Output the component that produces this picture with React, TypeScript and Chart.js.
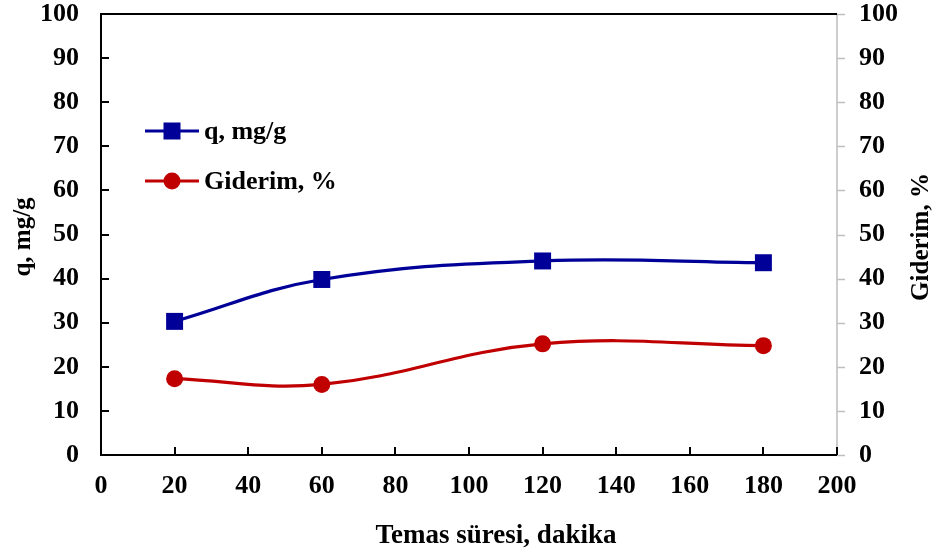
import React, { useEffect, useRef } from "react";
import { Chart, registerables } from "chart.js";

Chart.register(...registerables);

const timeMin = [20, 60, 120, 180];
const qValues = [30.3, 39.8, 44.0, 43.6];
const removalValues = [17.3, 16.0, 25.2, 24.8];
const xTitle = "Temas süresi, dakika";
const yLeftTitle = "q, mg/g";
const yRightTitle = "Giderim, %";
const seriesNames = ["q, mg/g", "Giderim, %"];

const BLUE = "#000099";
const RED = "#C00000";
const FONT = "'Liberation Serif', 'Times New Roman', serif";

const framePlugin = {
  id: "frame",
  afterDraw(chart: any) {
    const { ctx, chartArea: a, scales } = chart;
    const x = scales.x;
    const y = scales.y;
    const y2 = scales.y2;
    ctx.save();
    // right axis gray
    ctx.strokeStyle = "#BFBFBF";
    ctx.lineWidth = 1.5;
    ctx.beginPath();
    ctx.moveTo(a.right, a.top);
    ctx.lineTo(a.right, a.bottom);
    y2.ticks.forEach((t: any) => {
      const py = Math.round(y2.getPixelForValue(t.value)) + 0.5;
      ctx.moveTo(a.right, py);
      ctx.lineTo(a.right + 8, py);
    });
    ctx.stroke();
    // black axes
    ctx.strokeStyle = "#000";
    ctx.lineWidth = 2;
    ctx.beginPath();
    ctx.moveTo(a.right, a.top);
    ctx.lineTo(a.left, a.top);
    ctx.lineTo(a.left, a.bottom);
    ctx.lineTo(a.right, a.bottom);
    y.ticks.forEach((t: any) => {
      const py = Math.round(y.getPixelForValue(t.value));
      ctx.moveTo(a.left, py);
      ctx.lineTo(a.left + 8, py);
    });
    x.ticks.forEach((t: any) => {
      const px = Math.round(x.getPixelForValue(t.value));
      ctx.moveTo(px, a.bottom);
      ctx.lineTo(px, a.bottom - 8);
    });
    ctx.stroke();

    // titles
    ctx.fillStyle = "#000";
    ctx.font = `bold 27px ${FONT}`;
    ctx.textAlign = "center";
    ctx.textBaseline = "middle";
    ctx.fillText(xTitle, 496, 536);
    ctx.font = `bold 25px ${FONT}`;
    ctx.save();
    ctx.translate(24, 237);
    ctx.rotate(-Math.PI / 2);
    ctx.fillText(yLeftTitle, 0, 0);
    ctx.restore();
    ctx.save();
    ctx.translate(922, 237);
    ctx.rotate(-Math.PI / 2);
    ctx.fillText(yRightTitle, 0, 0);
    ctx.restore();

    // legend
    const items = [
      { label: seriesNames[0], color: BLUE, shape: "rect", y: 131 },
      { label: seriesNames[1], color: RED, shape: "circle", y: 181 },
    ];
    items.forEach((it) => {
      ctx.strokeStyle = it.color;
      ctx.fillStyle = it.color;
      ctx.lineWidth = 3;
      ctx.beginPath();
      ctx.moveTo(145, it.y);
      ctx.lineTo(199, it.y);
      ctx.stroke();
      if (it.shape === "rect") {
        ctx.fillRect(172 - 8.5, it.y - 8.5, 17, 17);
      } else {
        ctx.beginPath();
        ctx.arc(172, it.y, 8.5, 0, Math.PI * 2);
        ctx.fill();
      }
      ctx.fillStyle = "#000";
      ctx.textAlign = "left";
      ctx.font = `bold 26px ${FONT}`;
      ctx.fillText(it.label, 204, it.y + 1);
    });
    ctx.restore();
  },
};

const zeroPad = (s: any) => {
  s.paddingTop = 0;
  s.paddingBottom = 0;
};

export default function App() {
  const ref = useRef<HTMLCanvasElement>(null);
  useEffect(() => {
    document.body.style.margin = "0";
    const tickFont = { family: FONT, size: 26, weight: "bold" as const };
    const chart = new Chart(ref.current!, {
      type: "line",
      data: {
        datasets: [
          {
            label: seriesNames[0],
            data: timeMin.map((t, i) => ({ x: t, y: qValues[i] })),
            borderColor: BLUE,
            backgroundColor: BLUE,
            borderWidth: 3.2,
            pointStyle: "rect",
            pointRadius: 12,
            pointBorderWidth: 0,
            tension: 0.4,
            yAxisID: "y",
          },
          {
            label: seriesNames[1],
            data: timeMin.map((t, i) => ({ x: t, y: removalValues[i] })),
            borderColor: RED,
            backgroundColor: RED,
            borderWidth: 3.2,
            pointStyle: "circle",
            pointRadius: 8.5,
            pointBorderWidth: 0,
            tension: 0.4,
            yAxisID: "y2",
          },
        ],
      },
      options: {
        animation: false,
        responsive: false,
        devicePixelRatio: 1,
        layout: { padding: { top: 14, left: 0, right: 0, bottom: 0 } },
        plugins: { legend: { display: false }, tooltip: { enabled: false } },
        scales: {
          x: {
            type: "linear",
            min: 0,
            max: 200,
            ticks: { stepSize: 20, color: "#000", font: tickFont, padding: 16, maxRotation: 0 },
            grid: { display: false, drawTicks: false },
            border: { display: false },
            afterFit: (s: any) => {
              s.height = 101;
              s.paddingLeft = 0;
              s.paddingRight = 0;
            },
          },
          y: {
            position: "left",
            min: 0,
            max: 100,
            ticks: { stepSize: 10, color: "#000", font: tickFont, padding: 22 },
            grid: { display: false, drawTicks: false },
            border: { display: false },
            afterFit: (s: any) => {
              s.width = 101;
              zeroPad(s);
            },
          },
          y2: {
            position: "right",
            min: 0,
            max: 100,
            ticks: { stepSize: 10, color: "#000", font: tickFont, padding: 22 },
            grid: { display: false, drawTicks: false },
            border: { display: false },
            afterFit: (s: any) => {
              s.width = 100;
              zeroPad(s);
            },
          },
        },
      },
      plugins: [framePlugin],
    });
    return () => chart.destroy();
  }, []);
  return (
    <div style={{ width: 937, height: 556 }}>
      <canvas ref={ref} width={937} height={556} style={{ display: "block" }} />
    </div>
  );
}
